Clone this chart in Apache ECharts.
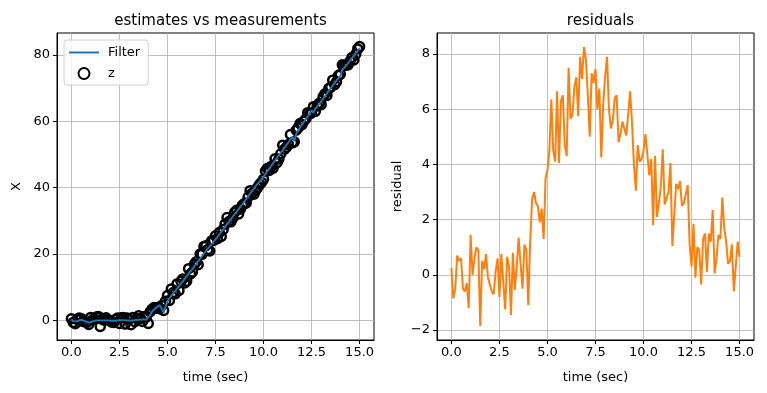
<!DOCTYPE html>
<html><head><meta charset="utf-8">
<script src="https://cdn.jsdelivr.net/npm/echarts@6/dist/echarts.min.js"></script>
<style>html,body{margin:0;padding:0;background:#fff}#c{width:767px;height:393px}</style>
</head><body><div id="c"></div>
<script>
// time step 0.1 s, 0..15
const timeStart = 0, timeStep = 0.1;
const filterX = [0.4,-0.3,-0.5,-0.2,0.1,0.2,0.0,-0.2,-0.5,-0.7,-0.5,-0.3,-0.1,0.0,0.1,0.0,-0.1,0.0,0.1,0.0,0.0,-0.1,-0.2,-0.1,0.0,0.1,0.0,0.1,-0.1,0.0,-0.2,-0.1,0.0,0.1,0.1,0.2,0.2,0.3,0.3,0.2,0.3,
1.6,2.7,3.3,3.8,4.3,4.6,4.9,2.4,4.2,5.8,
6.6,7.4,8.0,8.9,9.6,10.2,11.1,11.8,12.6,13.2,14.1,14.8,15.5,16.3,17.0,17.9,18.6,19.4,20.2,20.9,21.6,22.3,23.0,23.7,24.4,
25.1,25.9,26.5,27.4,28.2,29.0,29.7,30.5,31.3,32.0,32.8,33.5,34.3,35.0,35.8,36.6,37.4,38.2,39.0,39.7,40.5,41.2,41.9,42.6,43.3,
44.1,45.0,45.8,46.6,47.4,48.2,49.0,49.8,50.6,51.3,52.1,52.9,53.7,54.5,55.3,54.0,56.2,57.3,58.1,59.0,59.8,60.6,61.4,62.4,63.3,
62.5,63.8,64.3,65.2,66.0,66.8,67.6,68.4,69.2,70.0,70.8,71.5,72.3,73.0,73.8,75.5,76.0,76.8,77.5,78.3,79.0,79.8,80.5,81.2,82.0];
const measZ = [0.5,-0.6,-1.0,0.3,0.7,0.6,-0.3,-0.4,-0.6,-1.2,0.9,0.2,0.4,1.0,1.2,-1.8,0.4,0.1,0.8,0.2,-0.1,-0.5,-0.6,0.3,0.7,-0.9,0.8,0.9,-1.1,0.7,0.4,-1.3,0.9,-0.4,0.5,1.4,0.6,-0.3,1.2,1.0,-0.9,
2.6,3.4,3.9,3.7,3.9,3.5,4.5,3.0,5.8,7.5,
6.0,9.5,8.4,8.0,11.0,9.0,11.8,12.5,11.3,11.8,15.6,14.0,14.6,16.9,17.7,16.8,20.0,19.9,22.3,22.5,21.4,20.9,24.0,24.1,25.5,
24.6,26.5,25.3,27.4,29.0,31.0,29.8,29.7,30.8,32.6,33.2,32.1,33.6,34.7,35.2,35.4,37.2,39.1,38.3,38.0,39.2,40.1,41.0,41.6,42.5,
45.0,45.8,45.2,46.4,45.9,48.7,47.5,48.6,50.2,52.8,51.6,52.2,53.0,56.0,53.5,53.8,57.3,58.0,59.3,59.0,60.0,60.7,62.6,62.2,62.5,
64.4,63.0,64.6,65.4,65.0,67.4,68.3,67.8,69.9,70.3,72.4,71.0,71.9,73.8,74.2,77.0,76.8,76.9,77.0,78.1,79.2,78.5,80.2,81.8,82.5];
const residuals = [0.25,-0.85,-0.5,0.7,0.5,0.6,-0.5,-0.6,-0.3,-1.2,1.45,0.0,0.6,1.0,0.9,-1.85,0.5,0.2,0.75,-0.1,-0.15,-0.6,-0.7,0.1,0.6,-0.8,
0.75,0.8,-1.25,0.65,0.3,-1.45,0.8,-0.55,0.3,1.35,0.4,-0.5,1.1,0.9,-1.1,1.2,2.75,3.0,2.6,2.5,1.9,2.4,1.3,3.5,3.8,
4.5,6.35,4.5,4.1,6.65,4.05,6.3,6.5,4.7,4.3,7.5,5.65,5.8,6.8,7.15,5.75,7.9,7.1,8.25,7.8,6.5,5.0,7.3,6.95,7.45,
6.0,6.75,4.25,6.2,7.15,7.9,6.0,5.3,5.6,6.4,6.5,4.8,5.1,5.55,5.3,5.05,5.8,6.65,5.5,4.0,3.05,4.7,4.1,4.2,4.5,
5.1,5.05,3.6,4.2,1.8,4.3,2.1,2.6,3.2,4.55,2.55,2.6,3.0,4.05,1.05,1.0,3.3,3.1,3.4,2.5,2.6,2.6,3.25,1.1,0.3,
1.85,-0.1,1.0,0.9,-0.35,1.3,1.5,0.1,1.5,1.2,2.35,0.05,0.6,1.45,1.3,2.8,1.7,1.2,0.4,0.5,1.1,-0.6,0.3,1.2,0.65];
const xTicks = [0,2.5,5,7.5,10,12.5,15];
const leftYTicks = [0,20,40,60,80];
const rightYTicks = [-2,0,2,4,6,8];

const times = residuals.map((_, i) => +(timeStart + i * timeStep).toFixed(2));
const pairs = (arr) => arr.map((v, i) => [times[i], v]);

const FONT = 'DejaVu Sans';
const gridLine = {show: true, lineStyle: {color: '#b0b0b0', width: 0.8}};
const minus = (s) => String(s).replace('-', '\u2212');

function xAxis(gi) {
  return {
    type: 'value', gridIndex: gi, min: -0.75, max: 15.75,
    name: 'time (sec)', nameLocation: 'middle', nameGap: 31,
    nameTextStyle: {fontFamily: FONT, fontSize: 13, color: '#000'},
    axisLine: {show: true, onZero: false, lineStyle: {color: '#000', width: 1}},
    axisTick: {show: true, length: 4, lineStyle: {color: '#000'}, customValues: xTicks},
    axisLabel: {fontFamily: FONT, fontSize: 13, color: '#000', margin: 6, customValues: xTicks,
      formatter: (v) => minus(v.toFixed(1))},
    splitLine: gridLine
  };
}
function yAxis(gi, min, max, ticks, name, gap) {
  return {
    type: 'value', gridIndex: gi, min: min, max: max,
    name: name, nameLocation: 'middle', nameGap: gap,
    nameTextStyle: {fontFamily: FONT, fontSize: 13, color: '#000'},
    axisLine: {show: true, onZero: false, lineStyle: {color: '#000', width: 1}},
    axisTick: {show: true, length: 4, lineStyle: {color: '#000'}, customValues: ticks},
    axisLabel: {fontFamily: FONT, fontSize: 13, color: '#000', margin: 7, customValues: ticks,
      formatter: (v) => minus(v)},
    splitLine: gridLine
  };
}

const chart = echarts.init(document.getElementById('c'), null, {renderer: 'canvas'});
chart.setOption({
  animation: false,
  backgroundColor: '#fff',
  title: [
    {text: 'estimates vs measurements', left: 215.5, top: 9, textAlign: 'center',
     textStyle: {fontFamily: FONT, fontSize: 15, fontWeight: 'normal', color: '#000'}},
    {text: 'residuals', left: 595.5, top: 9, textAlign: 'center',
     textStyle: {fontFamily: FONT, fontSize: 15, fontWeight: 'normal', color: '#000'}}
  ],
  legend: {
    left: 64, top: 40, orient: 'vertical', itemGap: 8, itemWidth: 30, itemHeight: 11,
    padding: [6, 8, 5, 5], borderColor: '#d0d0d0', borderWidth: 1, borderRadius: 3,
    backgroundColor: 'rgba(255,255,255,0.8)',
    textStyle: {fontFamily: FONT, fontSize: 13, color: '#000', padding: [0, 0, 0, 4]},
    data: [
      {name: 'Filter', icon: 'path://M0,0H30V2H0Z'},
      {name: 'z'}
    ]
  },
  grid: [
    {left: 57, right: 393, top: 33, bottom: 53, show: true, borderColor: '#000', borderWidth: 1, backgroundColor: 'transparent'},
    {left: 437, right: 13, top: 33, bottom: 53, show: true, borderColor: '#000', borderWidth: 1, backgroundColor: 'transparent'}
  ],
  xAxis: [xAxis(0), xAxis(1)],
  yAxis: [
    yAxis(0, -5.9, 86.6, leftYTicks, 'X', 34),
    yAxis(1, -2.36, 8.76, rightYTicks, 'residual', 33)
  ],
  series: [
    {name: 'z', type: 'scatter', xAxisIndex: 0, yAxisIndex: 0, data: pairs(measZ),
     symbol: 'circle', symbolSize: 9,
     itemStyle: {color: 'rgba(0,0,0,0)', borderColor: '#000', borderWidth: 2.5, opacity: 1}, z: 2},
    {name: 'Filter', type: 'line', xAxisIndex: 0, yAxisIndex: 0, data: pairs(filterX),
     symbol: 'none', lineStyle: {color: '#1f77b4', width: 1.9}, itemStyle: {color: '#1f77b4'}, z: 3},
    {name: 'residual', type: 'line', xAxisIndex: 1, yAxisIndex: 1, data: pairs(residuals),
     symbol: 'none', lineStyle: {color: '#ff7f0e', width: 2}, itemStyle: {color: '#ff7f0e'}, z: 3}
  ]
});
</script></body></html>
